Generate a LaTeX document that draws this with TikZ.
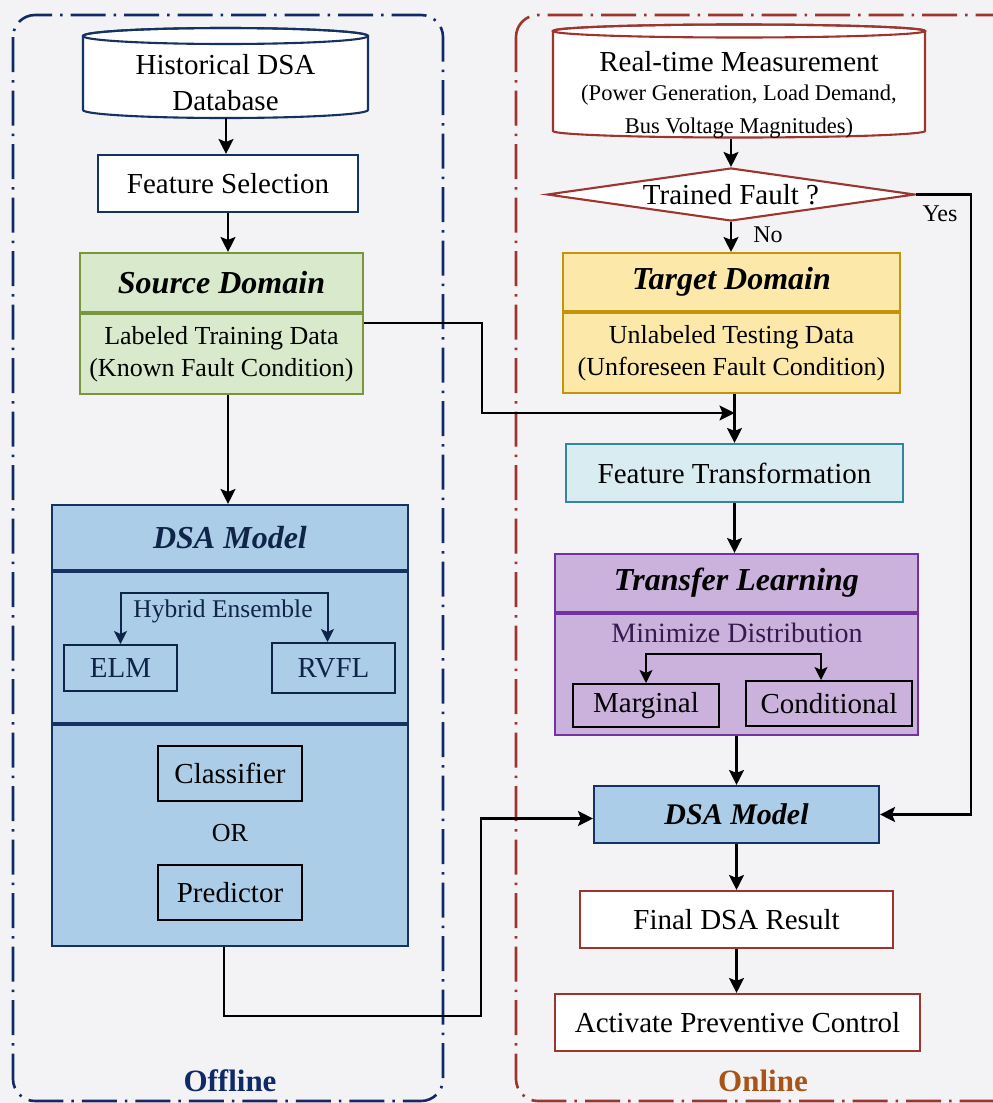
\documentclass[tikz,border=0pt]{standalone}
\usepackage{fontspec}
\setmainfont{Liberation Serif}
\usetikzlibrary{arrows.meta,calc,shapes.geometric}

\definecolor{pagebg}{RGB}{243,243,246}
\definecolor{offnavy}{RGB}{16,42,104}
\definecolor{onred}{RGB}{158,52,46}
\definecolor{onlinetxt}{RGB}{168,84,24}
\definecolor{navyline}{RGB}{22,50,98}
\definecolor{navytxt}{RGB}{14,36,72}
\definecolor{srcfill}{RGB}{217,233,203}
\definecolor{srcline}{RGB}{120,150,62}
\definecolor{tgtfill}{RGB}{252,232,168}
\definecolor{tgtline}{RGB}{196,148,10}
\definecolor{ftfill}{RGB}{216,236,242}
\definecolor{ftline}{RGB}{52,134,156}
\definecolor{tlfill}{RGB}{203,178,220}
\definecolor{tlline}{RGB}{114,50,162}
\definecolor{tltxt}{RGB}{52,26,78}
\definecolor{dsafill}{RGB}{172,205,232}

\tikzset{
  tip/.style={-{Stealth[length=15pt,width=15pt,inset=3pt]}},
  conn/.style={line width=2.2pt, draw=black, tip},
  fork/.style={line width=2pt, {Stealth[length=13pt,width=13pt,inset=3pt]}-{Stealth[length=13pt,width=13pt,inset=3pt]}},
  stage/.style={line width=2.6pt, dash pattern=on 35pt off 8pt on 2.5pt off 8pt, rounded corners=22pt},
  boxbase/.style={draw, line width=2.1pt, inner sep=0pt, align=center, font=\fontsize{29}{35}\selectfont},
  titletxt/.style={font=\fontsize{32}{38}\selectfont\bfseries\itshape},
  bodytxt/.style={font=\fontsize{26}{32}\selectfont},
  whitebox/.style={boxbase, fill=white},
  navybox/.style={whitebox, draw=navyline},
  redbox/.style={whitebox, draw=onred},
  srcbox/.style={boxbase, draw=srcline, fill=srcfill, minimum width=283},
  tgtbox/.style={boxbase, draw=tgtline, fill=tgtfill, minimum width=337},
  tlbox/.style={boxbase, draw=tlline, fill=tlfill, minimum width=363},
  dsabox/.style={boxbase, draw=navyline, fill=dsafill},
  innerbox/.style={boxbase, draw=black, line width=2pt},
  navyinner/.style={boxbase, draw=navytxt, line width=2pt, text=navytxt},
  cyltxt/.style={align=center, inner sep=0pt},
  stagelbl/.style={font=\fontsize{31}{36}\selectfont\bfseries},
  smalllbl/.style={font=\fontsize{24}{28}\selectfont, inner sep=0pt}
}

\begin{document}
\begin{tikzpicture}[x=1pt,y=1pt]
\useasboundingbox (0,0) rectangle (993,-1103);
\fill[pagebg] (0,0) rectangle (993,-1103);

% Offline / online stage frames
\begin{scope}
  \clip (0,0) rectangle (993,-1103);
  \draw[stage, draw=offnavy] (13,-15) rectangle (443,-1101);
  \draw[stage, draw=onred] (516,-15) rectangle (1040,-1101);
\end{scope}

% ---------------- Offline column ----------------
% database cylinder
\path[draw=navyline, fill=white, line width=2.1pt]
  (83,-36) -- (83,-110) arc[start angle=180,end angle=360,x radius=142.5,y radius=8]
  -- (368,-36) arc[start angle=0,end angle=180,x radius=142.5,y radius=8] -- cycle;
\draw[navyline, line width=2.1pt] (225.5,-36) ellipse[x radius=142.5, y radius=8];
\node[cyltxt, font=\fontsize{29}{36}\selectfont] (hist) at (225.5,-83) {Historical DSA\\Database};
\coordinate (histB) at (226,-118);

\node[navybox, minimum width=260, minimum height=57] (feat) at (228,-183.5) {Feature Selection};

\node[srcbox, titletxt, minimum height=59] (srcT) at (221.5,-282.5) {Source Domain};
\node[srcbox, bodytxt, minimum height=80, anchor=north] (srcB) at (srcT.south) {Labeled Training Data\\(Known Fault Condition)};

\node[dsabox, titletxt, text=navytxt, minimum width=356, minimum height=65] (dsaLt) at (230,-537.5) {DSA Model};
\node[dsabox, minimum width=356, minimum height=151, anchor=north] (dsaLm) at (dsaLt.south) {};
\node[dsabox, minimum width=356, minimum height=221, anchor=north] (dsaLb) at (dsaLm.south) {};

\node[inner sep=0pt, text=navytxt, font=\fontsize{25.5}{30}\selectfont] (hyb) at (223,-611) {Hybrid Ensemble};
\node[navyinner, minimum width=113, minimum height=46] (elm) at (120.5,-668) {ELM};
\node[navyinner, minimum width=123, minimum height=50] (rvfl) at (333.5,-668) {RVFL};

\node[innerbox, minimum width=144, minimum height=55] (clf) at (230,-773.5) {Classifier};
\node[inner sep=0pt, font=\fontsize{26}{30}\selectfont] (orlbl) at (230,-833) {OR};
\node[innerbox, minimum width=144, minimum height=55] (pred) at (230,-892.5) {Predictor};

\node[stagelbl, text=offnavy] (offlbl) at (230,-1081) {Offline};

% ---------------- Online column ----------------
\path[draw=onred, fill=white, line width=2.1pt]
  (553,-31) -- (553,-131) arc[start angle=180,end angle=360,x radius=186,y radius=6.5]
  -- (925,-31) arc[start angle=0,end angle=180,x radius=186,y radius=6.5] -- cycle;
\draw[onred, line width=2.1pt] (739,-31) ellipse[x radius=186, y radius=6.5];
\node[cyltxt, font=\fontsize{22.5}{29}\selectfont] (meas) at (739,-95)
  {{\fontsize{29}{29}\selectfont Real-time Measurement}\\(Power Generation, Load Demand,\\[4pt]Bus Voltage Magnitudes)};
\coordinate (measB) at (739,-138.5);

\node[diamond, draw=onred, fill=white, line width=2.1pt, aspect=6.9, minimum width=368,
      minimum height=53, inner sep=0pt, font=\fontsize{29}{32}\selectfont] (fault) at (731,-194.5) {Trained Fault ?};

\node[tgtbox, titletxt, minimum height=58] (tgtT) at (731.5,-282) {Target Domain};
\node[tgtbox, bodytxt, minimum height=80, anchor=north] (tgtB) at (tgtT.south) {Unlabeled Testing Data\\(Unforeseen Fault Condition)};

\node[boxbase, draw=ftline, fill=ftfill, minimum width=337, minimum height=58] (ft) at (734.5,-473) {Feature Transformation};

\node[tlbox, titletxt, minimum height=58] (tlT) at (736.5,-583) {Transfer Learning};
\node[tlbox, minimum height=121, anchor=north] (tlB) at (tlT.south) {};
\node[inner sep=0pt, text=tltxt, font=\fontsize{28}{32}\selectfont] (minim) at (737,-633) {Minimize Distribution};
\node[innerbox, minimum width=146, minimum height=43] (marg) at (646,-705.5) {Marginal};
\node[innerbox, minimum width=166, minimum height=45] (cond) at (829,-703.5) {Conditional};

\node[dsabox, titletxt, font=\fontsize{30}{36}\selectfont\bfseries\itshape, minimum width=285, minimum height=57] (dsaR) at (736.5,-814.5) {DSA Model};
\node[redbox, minimum width=313, minimum height=57] (final) at (736.5,-919.5) {Final DSA Result};
\node[redbox, minimum width=365, minimum height=57] (act) at (737.5,-1022.5) {Activate Preventive Control};

\node[smalllbl] (yes) at (940,-214) {Yes};
\node[smalllbl] (no) at (768,-235) {No};
\node[stagelbl, text=onlinetxt] (onlbl) at (763,-1081) {Online};

% ---------------- Connectors ----------------
\draw[conn] (histB) -- (histB |- feat.north);
\draw[conn] (feat.south) -- (feat.south |- srcT.north);
\draw[conn] (srcB.south -| feat.south) -- (dsaLt.north -| feat.south);
\draw[fork, draw=navytxt] (elm.north) -- (elm.north |- 0,-593) -| ([xshift=-6pt]rvfl.north);

\draw[conn] (measB -| fault.north) -- (fault.north);
\draw[conn] (fault.south) -- (fault.south |- tgtT.north);
\draw[conn] (tgtB.south -| ft.north) -- (ft.north);
\coordinate (join) at (734.5,-413);
\coordinate (bend) at (482,-413);
\draw[conn] ([yshift=31pt]srcB.east) -| (bend) -- (join);
\draw[conn] (ft.south) -- (ft.south |- tlT.north);
\draw[fork] (marg.north) -- (marg.north |- 0,-654) -| ([xshift=-8pt]cond.north);
\draw[conn] (tlB.south) -- (tlB.south |- dsaR.north);
\draw[conn] (dsaR.south) -- (dsaR.south |- final.north);
\draw[conn] (final.south) -- (final.south |- act.north);

\draw[conn] (fault.east) -- (971,-194.5) |- (dsaR.east);
\draw[conn] ([xshift=-6pt]dsaLb.south) |- (481,-1016) |- ([yshift=-4pt]dsaR.west);
\end{tikzpicture}
\end{document}
